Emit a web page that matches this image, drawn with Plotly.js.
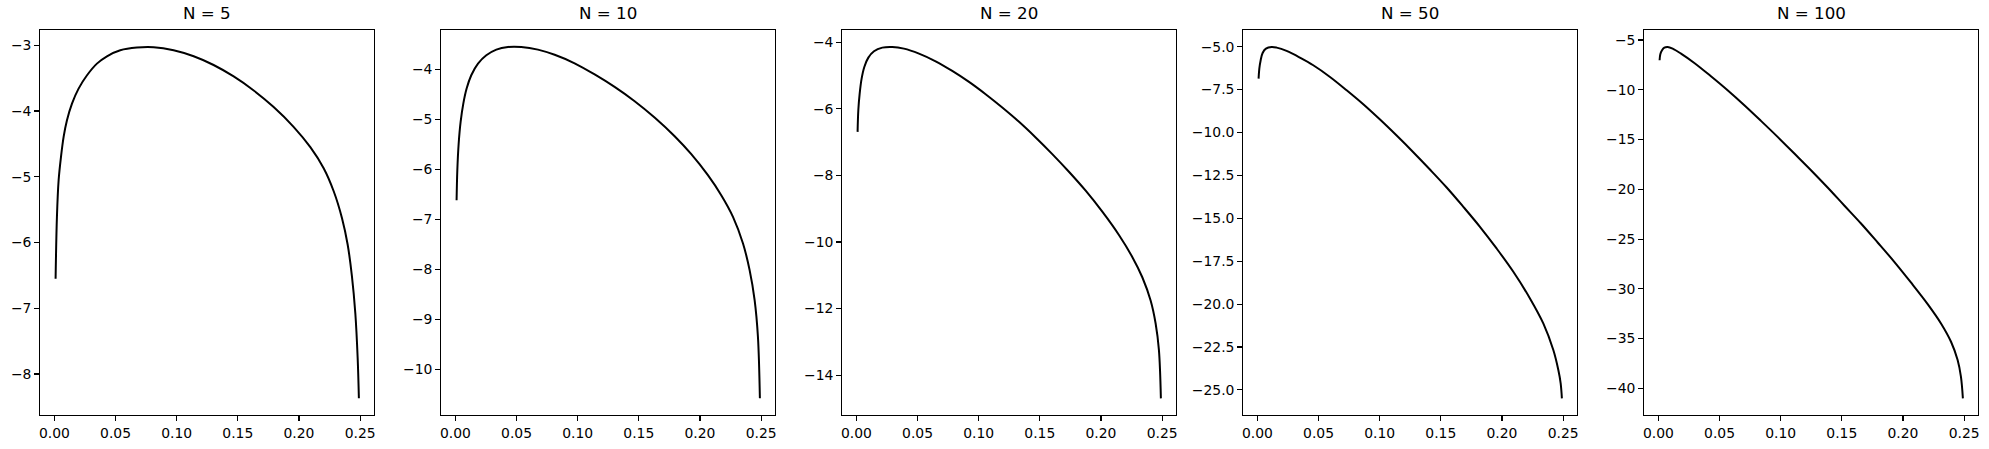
<!DOCTYPE html>
<html>
<head>
<meta charset="utf-8">
<script src="https://cdn.plot.ly/plotly-3.0.1.min.js"></script>
<style>html,body{margin:0;padding:0;background:#fff;}#chart{width:1989px;height:449px;}</style>
</head>
<body>
<div id="chart"></div>
<script>
// ---- data ----
const panelTitles = ["N = 5", "N = 10", "N = 20", "N = 50", "N = 100"];

const x_N5  = [0.001,0.0021,0.0035,0.0054,0.0076,0.0103,0.0144,0.0198,0.0267,0.0348,0.043,0.0539,0.0675,0.0812,0.0975,0.1139,0.1302,0.1466,0.163,0.1793,0.1956,0.2093,0.2202,0.2284,0.2352,0.2398,0.2433,0.2461,0.248,0.249];
const y_N5  = [-6.55,-5.61,-5.05,-4.70,-4.39,-4.14,-3.887,-3.659,-3.456,-3.279,-3.167,-3.076,-3.035,-3.03,-3.076,-3.167,-3.30,-3.474,-3.687,-3.94,-4.24,-4.55,-4.87,-5.22,-5.63,-6.03,-6.51,-7.08,-7.76,-8.37];

const x_N10 = [0.001,0.0016,0.0027,0.0043,0.0065,0.0092,0.013,0.0185,0.0253,0.0335,0.043,0.0539,0.0675,0.0812,0.0975,0.1139,0.1302,0.1466,0.1629,0.1793,0.1929,0.2065,0.2174,0.227,0.2352,0.2406,0.2447,0.2474,0.249];
const y_N10 = [-6.62,-6.02,-5.485,-5.052,-4.686,-4.386,-4.119,-3.886,-3.72,-3.606,-3.553,-3.553,-3.606,-3.71,-3.88,-4.103,-4.353,-4.639,-4.965,-5.339,-5.698,-6.118,-6.518,-6.951,-7.484,-8.017,-8.616,-9.349,-10.58];

const x_N20 = [0.001,0.0016,0.0027,0.0043,0.0065,0.0098,0.0144,0.0212,0.0294,0.0389,0.0512,0.0648,0.0784,0.0921,0.1057,0.1193,0.133,0.1466,0.1602,0.1738,0.1875,0.2011,0.2147,0.2256,0.2338,0.2406,0.2447,0.2474,0.249];
const y_N20 = [-6.692,-6.041,-5.541,-5.09,-4.74,-4.46,-4.27,-4.16,-4.14,-4.19,-4.34,-4.57,-4.86,-5.19,-5.56,-5.96,-6.39,-6.86,-7.36,-7.89,-8.46,-9.09,-9.79,-10.45,-11.06,-11.76,-12.45,-13.25,-14.70];

const x_N50 = [0.001,0.0016,0.0027,0.0043,0.007,0.0117,0.0158,0.0239,0.0348,0.0457,0.0594,0.073,0.0866,0.1003,0.1139,0.1275,0.1411,0.1548,0.1684,0.182,0.1956,0.2093,0.2229,0.2338,0.242,0.2461,0.248,0.249];
const y_N50 = [-6.86,-6.28,-5.79,-5.365,-5.112,-5.015,-5.054,-5.248,-5.636,-6.083,-6.762,-7.538,-8.353,-9.246,-10.178,-11.148,-12.157,-13.205,-14.33,-15.495,-16.756,-18.115,-19.667,-21.123,-22.675,-23.84,-24.615,-25.49];

const x_N100 = [0.001,0.0016,0.003,0.0049,0.0076,0.0117,0.0185,0.0294,0.043,0.0566,0.0703,0.0839,0.0975,0.1112,0.1248,0.1384,0.152,0.1657,0.1793,0.1929,0.2065,0.2202,0.2311,0.2393,0.2447,0.2474,0.249];
const y_N100 = [-7.04,-6.435,-6.033,-5.765,-5.698,-5.866,-6.368,-7.305,-8.644,-10.049,-11.555,-13.128,-14.735,-16.408,-18.082,-19.822,-21.629,-23.436,-25.344,-27.286,-29.36,-31.536,-33.477,-35.318,-37.16,-38.83,-41.01];

const xs = [x_N5, x_N10, x_N20, x_N50, x_N100];
const ys = [y_N5, y_N10, y_N20, y_N50, y_N100];

// ---- layout (pixel geometry of the reference) ----
const W = 1989, H = 449;
const axLeft = [40.3, 441.3, 842.3, 1243.3, 1644.3];
const axWidth = 334;
const axTop = 30.3, axBottom = 415;
const yRanges = [[-8.624,-2.772],[-10.914,-3.22],[-15.2,-3.639],[-26.46,-4.045],[-42.68,-4.025]];
const yDticks = [1, 1, 2, 2.5, 5];
const yFormats = ["d", "d", "d", ".1f", "d"];
const xRange = [-0.0115, 0.2616];

const font = {family: "DejaVu Sans, sans-serif", size: 13.9, color: "#000"};
const traces = [];
const layout = {
  width: W, height: H,
  margin: {l: 0, r: 0, t: 0, b: 0, pad: 0},
  paper_bgcolor: "#fff", plot_bgcolor: "#fff",
  showlegend: false,
  font: font,
  annotations: []
};

for (let i = 0; i < 5; i++) {
  const sfx = i === 0 ? "" : String(i + 1);
  traces.push({
    x: xs[i], y: ys[i], type: "scatter", mode: "lines",
    line: {color: "#000", width: 2, shape: "spline", smoothing: 1},
    xaxis: "x" + sfx, yaxis: "y" + sfx, hoverinfo: "skip"
  });
  const common = {
    showline: true, mirror: true, linecolor: "#000", linewidth: 1.1,
    showgrid: false, zeroline: false, ticks: "outside", ticklen: 5,
    tickwidth: 1.1, tickcolor: "#000", tickfont: font, fixedrange: true
  };
  layout["xaxis" + sfx] = Object.assign({}, common, {
    domain: [axLeft[i] / W, (axLeft[i] + axWidth) / W],
    range: xRange, dtick: 0.05, tick0: 0, tickformat: ".2f",
    anchor: "y" + sfx
  });
  layout["yaxis" + sfx] = Object.assign({}, common, {
    domain: [(H - axBottom) / H, (H - axTop) / H],
    range: yRanges[i], dtick: yDticks[i], tick0: 0, tickformat: yFormats[i],
    anchor: "x" + sfx
  });
  layout.annotations.push({
    text: panelTitles[i], xref: "paper", yref: "paper",
    x: (axLeft[i] + axWidth / 2) / W, y: (H - axTop) / H,
    xanchor: "center", yanchor: "bottom", yshift: 5, showarrow: false,
    font: {family: "DejaVu Sans, sans-serif", size: 16.7, color: "#000"}
  });
}

Plotly.newPlot("chart", traces, layout, {staticPlot: true, displayModeBar: false});
</script>
</body>
</html>
